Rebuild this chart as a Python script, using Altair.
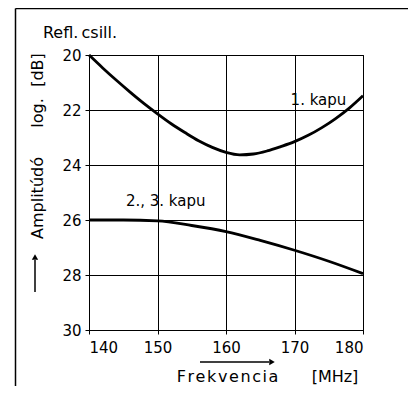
import altair as alt
import pandas as pd

# Curve "1. kapu"
freq1 = [140, 142, 144, 146, 148, 150, 152, 154, 156, 158, 160, 162, 164, 166, 168, 170, 172, 174, 176, 178, 180]
amp1 = [20.0, 20.47, 20.92, 21.35, 21.76, 22.14, 22.5, 22.82, 23.12, 23.36, 23.54, 23.63, 23.6, 23.49, 23.33, 23.15, 22.92, 22.64, 22.31, 21.93, 21.48]

# Curve "2., 3. kapu"
freq2 = [140, 145, 150, 155, 160, 165, 170, 175, 180]
amp2 = [26.0, 26.0, 26.03, 26.2, 26.42, 26.74, 27.1, 27.5, 27.95]

x_ticks = [140, 150, 160, 170, 180]
y_ticks = [20, 22, 24, 26, 28, 30]

label_text = ["1. kapu", "2., 3. kapu"]
label_x = [173.5, 151.2]
label_y = [21.64, 25.3]

FONT = "DejaVu Sans"
HS = "\u200a"

df = pd.concat([
    pd.DataFrame({"f": freq1, "a": amp1, "s": "1"}),
    pd.DataFrame({"f": freq2, "a": amp2, "s": "2"}),
])

xs = alt.Scale(domain=[140, 180], nice=False)
ys = alt.Scale(domain=[20, 30], reverse=True, nice=False)

xaxis = alt.Axis(values=x_ticks, title=None, grid=True, gridColor="black", gridOpacity=1, gridWidth=1,
                 domainColor="black", tickColor="black", tickSize=4, labelPadding=6,
                 labelFont=FONT, labelFontSize=15, labelColor="black")
yaxis = alt.Axis(values=y_ticks, title=None, grid=True, gridColor="black", gridOpacity=1, gridWidth=1,
                 domainColor="black", tickColor="black", tickSize=4, labelPadding=4,
                 labelFont=FONT, labelFontSize=15, labelColor="black")

lines = alt.Chart(df).mark_line(color="black", strokeWidth=2.8, interpolate="monotone").encode(
    x=alt.X("f:Q", scale=xs, axis=xaxis),
    y=alt.Y("a:Q", scale=ys, axis=yaxis),
    detail="s:N",
)

labels = alt.Chart(pd.DataFrame({"t": label_text, "x": label_x, "y": label_y})).mark_text(
    font=FONT, fontSize=15, color="black"
).encode(x=alt.X("x:Q", scale=xs), y=alt.Y("y:Q", scale=ys), text="t:N")


def txt(s, x, y, angle=0, size=16, align="center"):
    return alt.Chart(pd.DataFrame({"t": [s]})).mark_text(
        font=FONT, fontSize=size, color="black", angle=angle, align=align, baseline="middle"
    ).encode(text="t:N", x=alt.value(x), y=alt.value(y))


def rule(x, x2, y, y2, w=1.5):
    return alt.Chart(pd.DataFrame({"a": [0]})).mark_rule(color="black", strokeWidth=w).encode(
        x=alt.value(x), x2=alt.value(x2), y=alt.value(y), y2=alt.value(y2))


def head(x, y, shape):
    return alt.Chart(pd.DataFrame({"a": [0]})).mark_point(
        shape=shape, filled=True, color="black", size=40, opacity=1
    ).encode(x=alt.value(x), y=alt.value(y))


deco = [
    rule(-73.5, -73.5, -46.5, 331),          # frame left
    rule(-73.5, 319, -46.5, -46.5),          # frame top
    txt("Refl.\u2009csill.", -9, -22),
    txt("Amplitúdó", -51, 143, angle=270),
    txt("log.", -51, 58, angle=270),
    txt("[dB]", -51, 15, angle=270),
    rule(-54, -54, 237, 205),                # y arrow shaft
    head(-54, 202, "triangle-up"),
    txt(HS.join("Frekvencia"), 138.5, 322),
    txt("[MHz]", 246, 322),
    rule(111, 180, 307, 307),                # x arrow shaft
    head(183, 307, "triangle-right"),
]

chart = alt.layer(lines, labels, *deco).properties(
    width=274, height=275,
    autosize=alt.AutoSizeParams(type="none"),
    padding={"left": 81, "top": 47, "right": 45, "bottom": 56},
).configure_view(stroke="black", strokeWidth=1)

chart.save("out.html", embed_options={"renderer": "svg", "actions": False})
